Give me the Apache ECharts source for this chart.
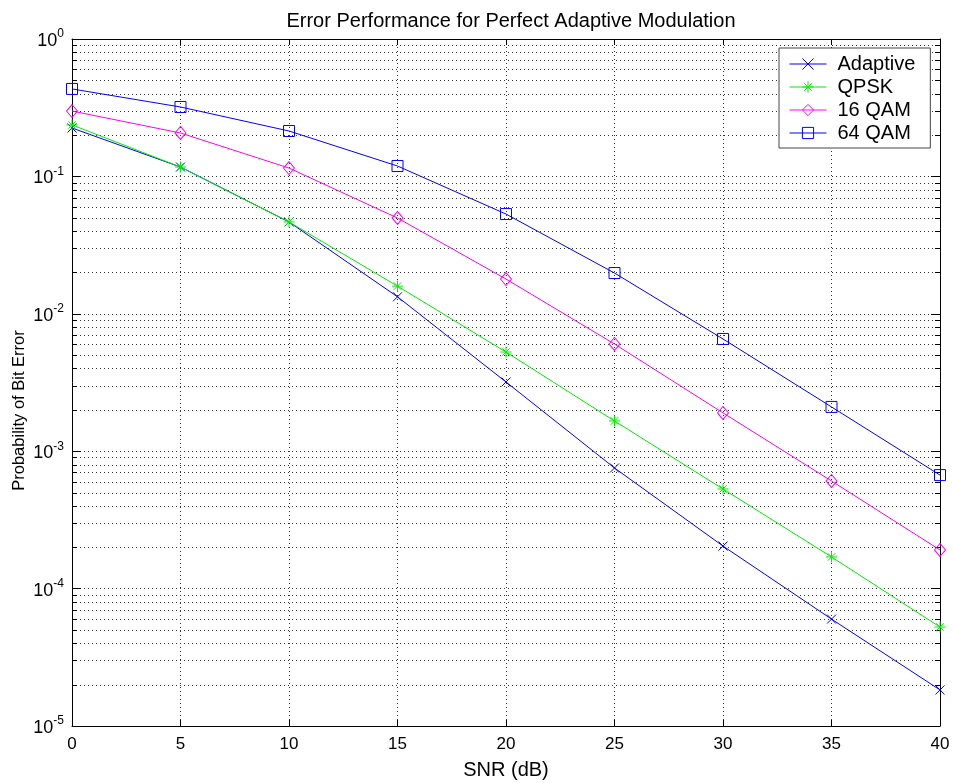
<!DOCTYPE html>
<html>
<head>
<meta charset="utf-8">
<script src="https://cdn.jsdelivr.net/npm/echarts@6/dist/echarts.min.js"></script>
<style>
  html, body { margin: 0; padding: 0; background: #fff; }
  #chart { width: 953px; height: 783px; }
</style>
</head>
<body>
<div id="chart"></div>
<script>
// SNR sweep (dB) and bit error probabilities per modulation scheme
const snr = [0, 5, 10, 15, 20, 25, 30, 35, 40];
const berAdaptive = [0.225, 0.117, 0.0466, 0.0133, 0.00319, 7.55e-4, 2.04e-4, 6.0e-5, 1.83e-5];
const berQPSK     = [0.237, 0.117, 0.0466, 0.0159, 0.00527, 0.00166, 5.31e-4, 1.70e-4, 5.25e-5];
const ber16QAM    = [0.299, 0.207, 0.115, 0.0498, 0.0179, 0.00603, 0.0019, 6.07e-4, 1.91e-4];
const ber64QAM    = [0.433, 0.32, 0.214, 0.119, 0.0532, 0.0198, 0.00656, 0.0021, 6.7e-4];
const seriesNames = ['Adaptive', 'QPSK', '16 QAM', '64 QAM'];

// log-axis grid levels: decades and the 2..9 multiples inside each decade
const decades = [1e-5, 1e-4, 1e-3, 1e-2, 1e-1, 1];
const minorLevels = [];
for (let d = 0; d < decades.length - 1; d++) {
  for (let m = 2; m <= 9; m++) minorLevels.push(+(decades[d] * m).toPrecision(3));
}

const SYM_X = 'path://M0,0L10,10M10,0L0,10';
const SYM_STAR = 'path://M5,0L5,10M0,5L10,5M1.6,1.6L8.4,8.4M8.4,1.6L1.6,8.4';
const SYM_DIAMOND = 'path://M5,0L10,6L5,12L0,6Z';
const SYM_SQUARE = 'path://M0,0L10,0L10,10L0,10Z';

const FONT = 'Liberation Sans, Arial, sans-serif';

function pairs(ys) { return snr.map((x, i) => [x, ys[i]]); }

function lineSeries(name, ys, color, symbol, size) {
  return {
    name: name,
    type: 'line',
    data: pairs(ys),
    symbol: symbol,
    symbolSize: size,
    showAllSymbol: true,
    clip: false,
    lineStyle: { color: color, width: 1 },
    itemStyle: { color: 'rgba(0,0,0,0)', borderColor: color, borderWidth: 1 },
    emphasis: { disabled: true },
    z: 5
  };
}

const chart = echarts.init(document.getElementById('chart'), null, { renderer: 'canvas' });

const option = {
  animation: false,
  backgroundColor: '#fff',
  textStyle: { fontFamily: FONT },
  title: {
    text: 'Error Performance for Perfect Adaptive Modulation',
    left: 506, top: 6, textAlign: 'center',
    textStyle: { fontSize: 20, fontWeight: 'normal', color: '#000', fontFamily: FONT }
  },
  legend: {
    data: seriesNames,
    orient: 'vertical',
    left: 779, top: 48,
    itemWidth: 37, itemHeight: 14, itemGap: 3,
    padding: [6, 15, 5, 10],
    backgroundColor: '#fff',
    borderColor: '#444', borderWidth: 1,
    lineStyle: { width: 1 },
    itemStyle: { borderWidth: 1 },
    textStyle: { fontSize: 20, color: '#000', fontFamily: FONT, padding: [0, 0, 0, 6] },
    selectedMode: false
  },
  grid: { left: 72, right: 13, top: 39, bottom: 57, show: false, containLabel: false, outerBoundsMode: 'none' },
  xAxis: [{
    type: 'value', min: 0, max: 40, interval: 5,
    name: 'SNR (dB)', nameLocation: 'middle', nameGap: 34,
    nameTextStyle: { fontSize: 20, color: '#000' },
    axisLine: { show: true, onZero: false, lineStyle: { color: '#000', width: 1 } },
    axisTick: { inside: true, length: 6, lineStyle: { color: '#000' } },
    axisLabel: { fontSize: 17, color: '#000', margin: 10 },
    splitLine: { show: true, lineStyle: { color: '#333', type: [1, 3], width: 1 } }
  }, {
    type: 'value', min: 0, max: 40, interval: 5, position: 'top',
    axisLine: { show: true, onZero: false, lineStyle: { color: '#000', width: 1 } },
    axisTick: { inside: true, length: 6, lineStyle: { color: '#000' } },
    axisLabel: { show: false }, splitLine: { show: false }
  }],
  yAxis: [{
    type: 'log', logBase: 10, min: 1e-5, max: 1,
    name: 'Probability of Bit Error', nameLocation: 'middle', nameGap: 44,
    nameMoveOverlap: false,
    nameTextStyle: { fontSize: 16.5, color: '#000', padding: [0, 56, 0, 0] },
    axisLine: { show: true, onZero: false, lineStyle: { color: '#000', width: 1 } },
    axisTick: { inside: true, length: 9, lineStyle: { color: '#000' } },
    axisLabel: {
      color: '#000', margin: 8,
      formatter: function (v) {
        const e = Math.round(Math.log10(v));
        return '{b|10}{s|' + e + '}';
      },
      rich: {
        b: { fontSize: 18, color: '#000', lineHeight: 22, verticalAlign: 'bottom' },
        s: { fontSize: 12, color: '#000', lineHeight: 22, verticalAlign: 'top', padding: [0, 0, 10, 0] }
      }
    },
    splitLine: { show: true, lineStyle: { color: '#333', type: [1, 3], width: 1 } }
  }, {
    type: 'log', logBase: 10, min: 1e-5, max: 1, position: 'right',
    axisLine: { show: true, onZero: false, lineStyle: { color: '#000', width: 1 } },
    axisTick: { inside: true, length: 9, lineStyle: { color: '#000' } },
    axisLabel: { show: false }, splitLine: { show: false }
  }],
  series: [
    {
      // dotted minor grid lines with short inside ticks on both sides
      type: 'custom',
      silent: true,
      z: 1,
      clip: false,
      data: minorLevels.map(v => [0, v]),
      renderItem: function (params, api) {
        const cs = params.coordSys;
        const y = Math.round(api.coord([0, api.value(1)])[1]) + 0.5;
        const x0 = cs.x, x1 = cs.x + cs.width;
        return {
          type: 'group',
          children: [
            { type: 'line', shape: { x1: x0, y1: y, x2: x1, y2: y },
              style: { stroke: '#333', lineWidth: 1, lineDash: [1, 3] } },
            { type: 'line', shape: { x1: x0, y1: y, x2: x0 + 5, y2: y },
              style: { stroke: '#000', lineWidth: 1 } },
            { type: 'line', shape: { x1: x1 - 5, y1: y, x2: x1, y2: y },
              style: { stroke: '#000', lineWidth: 1 } }
          ]
        };
      }
    },
    lineSeries('Adaptive', berAdaptive, '#0000ff', SYM_X, 9),
    lineSeries('QPSK', berQPSK, '#00ee00', SYM_STAR, 11),
    lineSeries('16 QAM', ber16QAM, '#ff00ff', SYM_DIAMOND, [11, 13]),
    lineSeries('64 QAM', ber64QAM, '#0000ff', SYM_SQUARE, 11)
  ]
};

chart.setOption(option);
</script>
</body>
</html>
